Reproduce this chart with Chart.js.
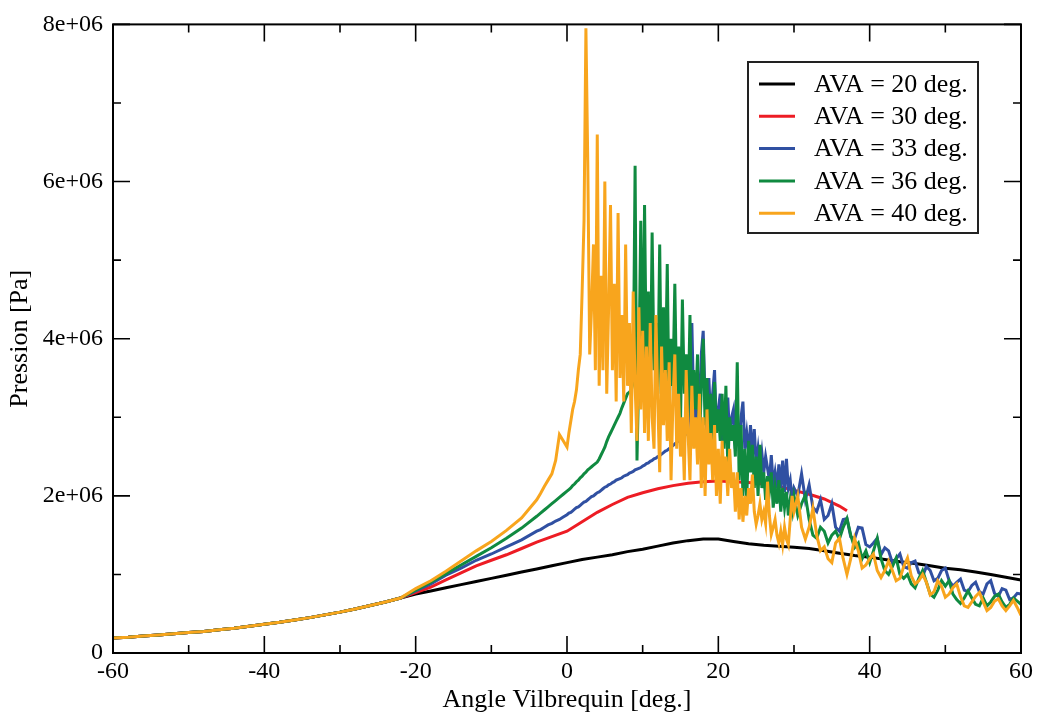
<!DOCTYPE html>
<html>
<head>
<meta charset="utf-8">
<script src="https://cdn.jsdelivr.net/npm/chart.js@4.4.0/dist/chart.umd.min.js"></script>
<style>
  html, body { margin: 0; padding: 0; background: #fff; }
  canvas { display: block; }
</style>
</head>
<body>
<canvas id="chart" width="1038" height="717"></canvas>
<script>
// pressure values are in units of 1e6 Pa

// common branch before -20 deg (all curves overlap)
const angleBase = [-60,-58,-56,-54,-52,-50,-48,-46,-44,-42,-40,-38,-36,-34,-32,-30,-28,-26,-24,-22];
const pressureBase = [0.19,0.20,0.215,0.23,0.245,0.26,0.275,0.295,0.315,0.34,0.365,0.39,0.42,0.45,0.485,0.52,0.56,0.605,0.65,0.70];

// AVA = 20 deg.
const angleCoarse = [-20,-18,-16,-14,-12,-10,-8,-6,-4,-2,
  0,2,4,6,8,10,12,14,16,18,
  20,22,24,26,28,30,32,34,36,38,
  40,42,44,46,48,50,52,54,56,58,
  60];
const ava20 = [0.75,0.79,0.83,0.87,0.91,0.95,0.99,1.03,1.07,1.11,
  1.15,1.19,1.22,1.25,1.29,1.32,1.36,1.40,1.43,1.45,
  1.45,1.42,1.39,1.37,1.36,1.345,1.33,1.30,1.27,1.24,
  1.22,1.19,1.16,1.14,1.11,1.08,1.06,1.03,1.00,0.965,
  0.93];

// AVA = 30 deg.
const angleRed = [-20,-18,-16,-14,-12,-10,-8,-6,-4,-2,
  0,2,4,6,8,10,12,14,16,18,
  20,22,24,26,28,30,32,34,36,37];
const ava30 = [0.77,0.84,0.93,1.02,1.11,1.18,1.25,1.33,1.41,1.48,
  1.55,1.67,1.79,1.89,1.98,2.04,2.09,2.13,2.16,2.18,
  2.19,2.18,2.17,2.15,2.12,2.07,2.02,1.96,1.87,1.81];

// AVA = 33 / 36 / 40 deg. share these angle grids
const angleMid = [-20,-18,-16,-14,-12,-10,-8,-6];
const angleNear = [-4,-3.5,-3,-2.5,-2,-1.5,-1,-0.5,0];
const angleDense = [0.25,0.5,0.75,1,1.25,1.5,1.75,2,
  2.25,2.5,2.75,3,3.25,3.5,3.75,4,
  4.25,4.5,4.75,5,5.25,5.5,5.75,6,
  6.25,6.5,6.75,7,7.25,7.5,7.75,8,
  8.25,8.5,8.75,9,9.25,9.5,9.75,10,
  10.25,10.5,10.75,11,11.25,11.5,11.75,12,
  12.25,12.5,12.75,13,13.25,13.5,13.75,14,
  14.25,14.5,14.75,15,15.25,15.5,15.75,16,
  16.25,16.5,16.75,17,17.25,17.5,17.75,18,
  18.25,18.5,18.75,19,19.25,19.5,19.75,20,
  20.25,20.5,20.75,21,21.25,21.5,21.75,22,
  22.25,22.5,22.75,23,23.25,23.5,23.75,24,
  24.25,24.5,24.75,25,25.25,25.5,25.75,26,
  26.25,26.5,26.75,27,27.25,27.5,27.75,28,
  28.25,28.5,28.75,29,29.25,29.5,29.75,30];
const angleTail = [30.5,31,31.5,32,32.5,33,33.5,34,34.5,35,
  35.5,36,36.5,37,37.5,38,38.5,39,39.5,40,
  40.5,41,41.5,42,42.5,43,43.5,44,44.5,45,
  45.5,46,46.5,47,47.5,48,48.5,49,49.5,50,
  50.5,51,51.5,52,52.5,53,53.5,54,54.5,55,
  55.5,56,56.5,57,57.5,58,58.5,59,59.5,60];

const ava33Mid = [0.79,0.88,0.99,1.08,1.18,1.26,1.35,1.44];
const ava33Near = [1.55,1.57,1.60,1.63,1.65,1.68,1.70,1.73,1.76];
const ava33Dense = [1.78,1.79,1.81,1.83,1.85,1.86,1.88,1.90,
  1.92,1.93,1.95,1.97,1.99,2.00,2.02,2.04,
  2.05,2.07,2.09,2.11,2.12,2.14,2.15,2.17,
  2.18,2.20,2.21,2.22,2.23,2.25,2.26,2.27,
  2.29,2.30,2.31,2.33,2.34,2.35,2.36,2.38,
  2.39,2.41,2.42,2.44,2.45,2.47,2.48,2.50,
  2.51,2.53,2.55,2.57,2.58,2.60,2.62,2.64,
  2.66,2.68,2.70,2.72,2.74,2.76,2.79,2.85,
  3.3,4.2,3.1,2.9,3.6,3.0,3.8,4.1,
  3.2,2.8,3.5,2.9,3.3,3.6,2.8,3.1,
  3.3,2.7,3.0,2.8,3.25,2.7,3.0,3.1,
  2.6,2.9,2.7,3.0,3.2,2.6,2.8,2.55,
  2.9,2.5,2.85,2.4,2.6,2.35,2.55,2.3,
  2.5,2.35,2.2,2.52,2.15,2.3,2.1,2.4,
  2.1,2.45,2.05,2.47,2.1,2.2,1.95,2.1];
const ava33Tail = [2.0,2.28,1.95,2.14,1.85,1.8,1.95,1.7,1.75,1.9,
  1.6,1.55,1.7,1.71,1.48,1.45,1.6,1.59,1.38,1.35,
  1.4,1.46,1.25,1.34,1.3,1.15,1.2,1.26,1.1,1.08,
  1.15,1.17,1.02,0.98,1.1,1.05,0.92,0.95,1.05,1.08,
  0.92,0.85,0.9,0.94,0.8,0.78,0.86,0.9,0.78,0.75,
  0.88,0.92,0.76,0.72,0.82,0.8,0.68,0.7,0.76,0.75];

const ava36Mid = [0.80,0.90,1.01,1.12,1.23,1.34,1.46,1.59];
const ava36Near = [1.74,1.78,1.82,1.86,1.90,1.94,1.98,2.02,2.06];
const ava36Dense = [2.08,2.10,2.13,2.15,2.18,2.20,2.23,2.25,
  2.28,2.30,2.33,2.35,2.37,2.39,2.41,2.43,
  2.47,2.52,2.57,2.62,2.69,2.75,2.80,2.85,
  2.90,2.95,3.00,3.05,3.12,3.18,3.24,3.30,
  3.32,3.35,3.45,6.2,2.45,3.6,5.5,3.4,
  5.7,3.5,4.6,3.2,5.35,3.6,4.2,3.3,
  5.2,3.1,4.4,3.4,4.95,3.0,4.0,3.4,
  4.7,3.2,3.9,2.9,4.5,3.3,3.8,3.0,
  4.3,2.9,3.6,3.1,3.8,2.6,3.4,4.0,
  2.9,3.5,2.7,3.3,2.5,3.45,2.8,3.1,
  2.7,3.3,2.6,3.4,2.35,3.0,2.7,2.9,
  2.5,3.7,2.2,2.9,2.0,2.6,1.95,2.7,
  2.3,2.65,2.1,2.5,2.0,2.65,2.1,2.3,
  1.95,2.25,2.05,2.3,1.85,2.1,1.9,2.2,
  1.8,2.1,1.85,2.05,1.75,1.95,1.8,2.0];
const ava36Tail = [1.75,1.9,2.01,1.7,1.5,1.46,1.6,1.55,1.4,1.5,
  1.55,1.45,1.6,1.71,1.5,1.34,1.4,1.2,1.3,1.15,
  1.3,1.46,1.2,1.05,1.0,1.1,1.21,1.0,0.95,1.0,
  0.88,0.83,0.95,1.05,0.9,0.75,0.71,0.8,0.92,0.85,
  0.92,0.75,0.68,0.63,0.7,0.79,0.7,0.62,0.6,0.7,
  0.6,0.65,0.72,0.75,0.65,0.58,0.62,0.7,0.66,0.62];

const ava40Mid = [0.82,0.92,1.04,1.17,1.30,1.42,1.56,1.72];
const ava40Near = [1.95,2.03,2.12,2.2,2.28,2.45,2.78,2.7,2.62];
const ava40Dense = [2.8,2.95,3.1,3.2,3.35,3.6,3.8,4.6,
  5.5,7.95,6.2,3.8,4.4,5.2,3.6,6.6,
  3.4,4.8,3.6,6.0,3.3,4.4,5.7,3.6,
  4.7,3.2,5.6,3.5,4.3,3.2,5.2,3.4,
  4.2,2.8,4.6,3.4,2.7,4.4,3.1,4.1,
  2.8,3.9,2.7,4.2,3.0,2.6,4.3,3.2,
  2.3,3.9,2.9,3.6,2.7,3.7,2.2,3.2,
  3.8,2.6,3.3,2.5,3.0,2.2,3.6,2.8,
  2.2,3.4,2.6,3.0,2.4,3.3,2.1,3.0,
  2.0,3.1,2.4,2.8,2.2,2.9,2.0,2.6,
  1.9,2.7,2.2,2.5,2.0,2.6,2.1,2.3,
  1.8,2.3,1.7,2.1,1.67,2.0,1.75,2.1,
  1.9,2.27,1.8,1.64,1.75,1.9,1.7,1.8,
  1.65,2.18,1.75,1.51,1.6,1.7,1.5,1.4,
  1.55,1.38,1.6,1.45,1.38,1.7,2.0,1.8];
const ava40Tail = [2.0,1.6,1.45,1.6,1.84,1.5,1.3,1.35,1.2,1.15,
  1.4,1.46,1.2,1.0,1.2,1.46,1.3,1.08,1.12,1.2,
  1.26,1.05,0.96,1.05,1.17,1.05,0.92,0.95,1.1,1.21,
  0.98,0.88,0.92,1.0,0.9,0.74,0.78,0.92,0.85,0.71,
  0.75,0.83,0.88,0.72,0.6,0.58,0.65,0.72,0.77,0.65,
  0.54,0.58,0.66,0.69,0.6,0.54,0.6,0.67,0.58,0.48];

const seriesLabels = ['AVA = 20 deg.', 'AVA = 30 deg.', 'AVA = 33 deg.', 'AVA = 36 deg.', 'AVA = 40 deg.'];
const seriesColors = ['#000000', '#ed1c24', '#3050a2', '#108a40', '#f8a51d'];

const xMajorTicks = [-60, -40, -20, 0, 20, 40, 60];
const xMinorTicks = [-50, -30, -10, 10, 30, 50];
const yMajorTicks = [0, 2, 4, 6, 8];
const yMinorTicks = [1, 3, 5, 7];
const yTickLabels = ['0', '2e+06', '4e+06', '6e+06', '8e+06'];

function toPoints(xs, ys) {
  return xs.map((x, i) => ({ x: x, y: ys[i] }));
}

const noisyAngles = angleBase.concat(angleMid, angleNear, angleDense, angleTail);
const seriesPoints = [
  toPoints(angleBase.concat(angleCoarse), pressureBase.concat(ava20)),
  toPoints(angleBase.concat(angleRed), pressureBase.concat(ava30)),
  toPoints(noisyAngles, pressureBase.concat(ava33Mid, ava33Near, ava33Dense, ava33Tail)),
  toPoints(noisyAngles, pressureBase.concat(ava36Mid, ava36Near, ava36Dense, ava36Tail)),
  toPoints(noisyAngles, pressureBase.concat(ava40Mid, ava40Near, ava40Dense, ava40Tail))
];

const serif = "'Liberation Serif', 'DejaVu Serif', serif";

// box around the plot with inward ticks on all four sides (xmgrace style)
const framePlugin = {
  id: 'frame',
  afterDatasetsDraw(chart) {
    const { ctx, chartArea: a, scales } = chart;
    ctx.save();
    ctx.strokeStyle = '#000';
    ctx.lineWidth = 2;
    ctx.strokeRect(a.left, a.top, a.right - a.left, a.bottom - a.top);
    ctx.lineWidth = 1.6;
    const tickX = (vals, len) => {
      vals.forEach(v => {
        const px = scales.x.getPixelForValue(v);
        ctx.beginPath();
        ctx.moveTo(px, a.bottom); ctx.lineTo(px, a.bottom - len);
        ctx.moveTo(px, a.top); ctx.lineTo(px, a.top + len);
        ctx.stroke();
      });
    };
    const tickY = (vals, len) => {
      vals.forEach(v => {
        const py = scales.y.getPixelForValue(v);
        ctx.beginPath();
        ctx.moveTo(a.left, py); ctx.lineTo(a.left + len, py);
        ctx.moveTo(a.right, py); ctx.lineTo(a.right - len, py);
        ctx.stroke();
      });
    };
    tickX(xMajorTicks, 17); tickX(xMinorTicks, 8);
    tickY(yMajorTicks, 17); tickY(yMinorTicks, 8);
    ctx.restore();
  }
};

// legend box inside the plot, top right
const legendPlugin = {
  id: 'boxLegend',
  afterDraw(chart) {
    const ctx = chart.ctx;
    const left = 748, top = 62, width = 230, height = 171;
    ctx.save();
    ctx.fillStyle = '#fff';
    ctx.fillRect(left, top, width, height);
    ctx.strokeStyle = '#222';
    ctx.lineWidth = 2;
    ctx.strokeRect(left, top, width, height);
    ctx.font = '26px ' + serif;
    ctx.textBaseline = 'middle';
    chart.data.datasets.forEach((ds, i) => {
      const y = top + 22 + i * 32.3;
      ctx.strokeStyle = ds.borderColor;
      ctx.lineWidth = 3;
      ctx.beginPath();
      ctx.moveTo(left + 11, y); ctx.lineTo(left + 47, y);
      ctx.stroke();
      ctx.fillStyle = '#000';
      ctx.fillText(ds.label, left + 66, y + 1);
    });
    ctx.restore();
  }
};

new Chart(document.getElementById('chart'), {
  type: 'scatter',
  data: {
    datasets: seriesLabels.map((label, i) => ({
      label: label,
      data: seriesPoints[i],
      showLine: true,
      borderColor: seriesColors[i],
      backgroundColor: seriesColors[i],
      borderWidth: 3,
      pointRadius: 0,
      tension: 0,
      order: seriesLabels.length - i
    }))
  },
  options: {
    responsive: false,
    animation: false,
    devicePixelRatio: 1,
    layout: { padding: { top: 18, right: 17, left: 0, bottom: 0 } },
    plugins: {
      legend: { display: false },
      tooltip: { enabled: false }
    },
    scales: {
      x: {
        type: 'linear',
        min: -60,
        max: 60,
        grid: { display: false, drawTicks: false },
        border: { display: false },
        ticks: {
          stepSize: 20,
          autoSkip: false,
          maxRotation: 0,
          padding: 4,
          color: '#000',
          font: { family: serif, size: 24 }
        },
        title: {
          display: true,
          text: 'Angle Vilbrequin [deg.]',
          color: '#000',
          font: { family: serif, size: 26 },
          padding: { top: 0, bottom: 1 }
        },
        afterFit: s => { s.height = 64; }
      },
      y: {
        type: 'linear',
        min: 0,
        max: 8,
        grid: { display: false, drawTicks: false },
        border: { display: false },
        ticks: {
          stepSize: 2,
          padding: 10,
          color: '#000',
          font: { family: serif, size: 24 },
          callback: (v, i) => yTickLabels[i]
        },
        title: {
          display: true,
          text: 'Pression [Pa]',
          color: '#000',
          font: { family: serif, size: 26 },
          padding: { top: 5, bottom: 0 }
        },
        afterFit: s => { s.width = 113; }
      }
    }
  },
  plugins: [framePlugin, legendPlugin]
});
</script>
</body>
</html>
